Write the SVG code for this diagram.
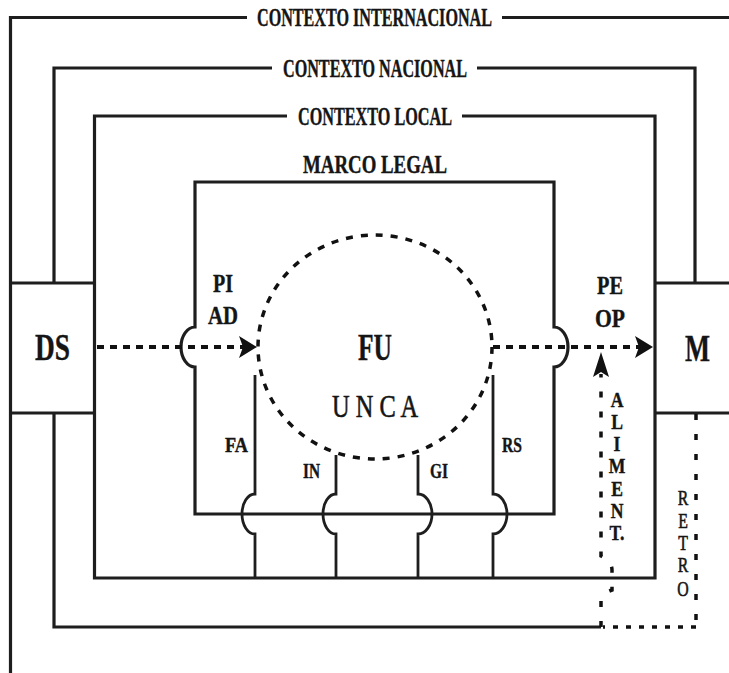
<svg xmlns="http://www.w3.org/2000/svg" width="729" height="673" viewBox="0 0 729 673">
  <style>
    .ln { fill: none; stroke: #1e1e1e; stroke-width: 3.2; stroke-linejoin: miter; }
    .thin { fill: none; stroke: #1e1e1e; stroke-width: 2.8; }
    .dh { fill: none; stroke: #111; stroke-width: 4; stroke-dasharray: 7 6; }
    .dv { fill: none; stroke: #111; stroke-width: 3.5; stroke-dasharray: 6 14; }
    .dc { fill: none; stroke: #111; stroke-width: 3.5; stroke-dasharray: 7 8; }
    .t { font-family: "Liberation Serif", "Times New Roman", serif; font-weight: bold; fill: #151515; stroke: #151515; stroke-width: 0.4; text-anchor: middle; }
    .n { font-weight: normal; stroke-width: 0.6; }
  </style>
  <defs>
    <marker id="ah" markerUnits="userSpaceOnUse" viewBox="0 0 18 24" markerWidth="18" markerHeight="24" refX="5" refY="12" orient="auto">
      <path d="M0,1 L18,12 L0,23 L4,12 Z" fill="#111"/>
    </marker>
    <marker id="ahUp" markerUnits="userSpaceOnUse" viewBox="0 0 25 16" markerWidth="25" markerHeight="16" refX="3" refY="8" orient="auto">
      <path d="M0,0 L25,8 L0,16 L5,8 Z" fill="#111"/>
    </marker>
  </defs>
  <rect width="729" height="673" fill="#fff"/>

  <g id="contexto-internacional">
    <path class="ln" d="M247,17.5 H10.5 V673 M502,17.5 H729"/>
    <text class="t" x="374.5" y="26" font-size="25" textLength="235" lengthAdjust="spacingAndGlyphs">CONTEXTO INTERNACIONAL</text>
  </g>

  <g id="contexto-nacional">
    <path class="ln" d="M272,68 H54 V283 M54,413 V627 H601 M477,68 H695 V283"/>
    <text class="t" x="375" y="77" font-size="25" textLength="184" lengthAdjust="spacingAndGlyphs">CONTEXTO NACIONAL</text>
  </g>

  <g id="contexto-local">
    <path class="ln" d="M287,116 H94.5 V578 H655 V116 H462"/>
    <text class="t" x="375" y="125" font-size="25" textLength="154" lengthAdjust="spacingAndGlyphs">CONTEXTO LOCAL</text>
  </g>

  <g id="ds">
    <path class="ln" d="M10.5,283 H94.5 M10.5,413 H94.5"/>
    <text class="t" x="52.5" y="360" font-size="38" textLength="35" lengthAdjust="spacingAndGlyphs">DS</text>
  </g>

  <g id="m">
    <path class="ln" d="M655,283 H729 M655,413 H729"/>
    <text class="t" x="697.5" y="361" font-size="38" textLength="25" lengthAdjust="spacingAndGlyphs">M</text>
  </g>

  <g id="marco-legal">
    <path class="ln" d="M195,182 H554 V327 A14 20 0 0 1 554,367 V514 H195 V367 A14 20 0 0 1 195,327 Z"/>
    <text class="t" x="375" y="173" font-size="26" textLength="144" lengthAdjust="spacingAndGlyphs">MARCO LEGAL</text>
  </g>

  <g id="fu">
    <ellipse class="dc" cx="375" cy="347" rx="117" ry="112"/>
    <text class="t" x="375" y="360" font-size="38" textLength="34" lengthAdjust="spacingAndGlyphs">FU</text>
    <text class="t n" x="375" y="417" font-size="32" textLength="86" lengthAdjust="spacingAndGlyphs">U N C A</text>
  </g>

  <g id="pi-ad">
    <text class="t" x="223" y="292" font-size="26" textLength="20" lengthAdjust="spacingAndGlyphs">PI</text>
    <text class="t" x="223" y="324" font-size="26" textLength="30" lengthAdjust="spacingAndGlyphs">AD</text>
  </g>

  <g id="pe-op">
    <text class="t" x="610" y="294" font-size="26" textLength="26" lengthAdjust="spacingAndGlyphs">PE</text>
    <text class="t" x="610" y="327" font-size="26" textLength="30" lengthAdjust="spacingAndGlyphs">OP</text>
  </g>

  <g id="fa">
    <path class="thin" d="M255,375 V494 A13 20 0 0 0 255,534 V578"/>
    <text class="t" x="236.5" y="452" font-size="21" textLength="23" lengthAdjust="spacingAndGlyphs">FA</text>
  </g>
  <g id="in">
    <path class="thin" d="M336,455 V494 A13 20 0 0 0 336,534 V578"/>
    <text class="t" x="311.5" y="478" font-size="21" textLength="17" lengthAdjust="spacingAndGlyphs">IN</text>
  </g>
  <g id="gi">
    <path class="thin" d="M418,455 V494 A14 20 0 0 1 418,534 V578"/>
    <text class="t" x="439" y="478" font-size="21" textLength="18" lengthAdjust="spacingAndGlyphs">GI</text>
  </g>
  <g id="rs">
    <path class="thin" d="M493,375 V494 A14 20 0 0 1 493,534 V578"/>
    <text class="t" x="512" y="452" font-size="21" textLength="20" lengthAdjust="spacingAndGlyphs">RS</text>
  </g>

  <g id="connectors">
    <path class="dh" d="M97,347 H244" marker-end="url(#ah)"/>
    <path class="dh" d="M493,347 H640" marker-end="url(#ah)"/>
    <path class="dv" d="M601,627 V600 Q601,594 612,590 V570 Q612,562 601,556 V374" marker-end="url(#ahUp)"/>
    <path class="dv" d="M696,414 V627"/>
    <path class="dh" style="stroke-width:3.5; stroke-dasharray:5 8" d="M696,627 H603"/>
  </g>

  <g id="labels-vertical">
    <g transform="translate(617 0) scale(0.8 1)">
      <text class="t" font-size="22"><tspan x="0" y="407">A</tspan><tspan x="0" y="429">L</tspan><tspan x="0" y="451">I</tspan><tspan x="0" y="473">M</tspan><tspan x="0" y="496">E</tspan><tspan x="0" y="518">N</tspan><tspan x="0" y="540">T.</tspan></text>
    </g>
    <g transform="translate(683 0) scale(0.72 1)">
      <text class="t n" font-size="22"><tspan x="0" y="505">R</tspan><tspan x="0" y="528">E</tspan><tspan x="0" y="550">T</tspan><tspan x="0" y="572">R</tspan><tspan x="0" y="596">O</tspan></text>
    </g>
  </g>
</svg>
